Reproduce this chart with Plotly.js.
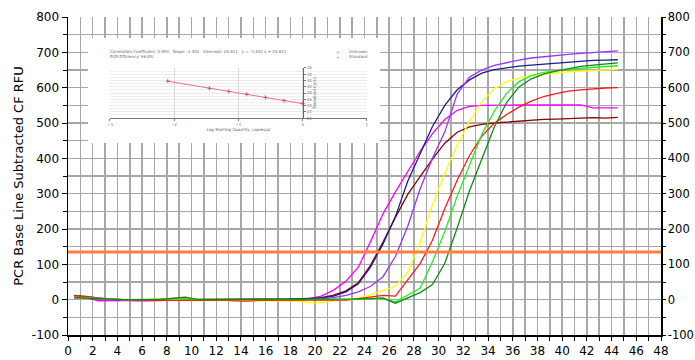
<!DOCTYPE html>
<html>
<head>
<meta charset="utf-8">
<script src="https://cdn.plot.ly/plotly-3.0.1.min.js"></script>
<style>html,body{margin:0;padding:0;background:#fff;}#chart{width:695px;height:360px;}</style>
</head>
<body>
<div id="chart"></div>
<script>
// ---- Amplification data (cycle, RFU) ----
const cycles = [0.5,1.5,2.5,3.5,4.5,5.5,6.5,7.5,8.5,9.5,10.5,11.5,12.5,13.5,14.5,15.5,16.5,17.5,18.5,19.5,20.5,21.5,22.5,23.5,24.5,25.5,26.5,27.5,28.5,29.5,30.5,31.5,32.5,33.5,34.5,35.5,36.5,37.5,38.5,39.5,40.5,41.5,42.5,43.5,44.5];

const magenta = [8,5,-3,-3,-1,-1,-1,-1,-1,0,-1,-1,-1,-1,-2,-2,-2,-1,0,3,10,27,52,92,165,243,305,362,420,470,510,536,547,550,551,551,551,551,551,551,551,551,543,543,543];
const navy = [6,4,2,1,-1,-1,-1,-1,-1,-1,-1,-1,-1,-1,0,0,0,1,2,3,5,10,22,45,93,158,235,335,415,490,550,594,622,641,651,657,661,664,667,670,673,675,677,678,679];
const maroon = [12,8,3,1,0,0,0,0,0,0,0,0,0,0,0,0,0,0,1,2,6,13,25,48,98,163,233,298,348,398,443,474,489,496,500,503,506,508,510,511,512,515,515,514,516];
const violet = [5,3,1,0,-3,-3,-3,-2,-1,-1,0,-1,-2,-1,-1,-1,-1,0,0,1,3,6,12,22,38,65,122,208,313,400,475,582,630,650,663,671,678,684,688,691,694,697,700,702,704];
const yellow = [6,5,5,2,0,-1,0,2,0,-1,-3,-2,-2,-2,-2,-4,-4,-4,-4,-8,-9,-3,0,4,14,27,38,78,162,268,358,438,505,560,597,617,627,634,639,642,645,647,649,651,652];
const red = [11,9,4,1,0,-2,-2,0,0,0,-1,-1,-1,-3,-4,-2,-2,-2,-2,-2,-3,-3,-1,3,8,12,10,55,102,168,258,338,408,463,499,524,545,562,575,583,590,594,597,599,600];
const lime = [7,5,3,1,0,0,0,0,2,3,0,0,0,0,0,0,0,0,0,0,-1,-1,0,1,3,2,-6,12,32,107,193,293,381,468,533,584,617,634,643,648,652,655,657,660,662];
const darkGreen = [6,4,2,1,0,0,0,1,4,7,0,0,0,0,0,0,0,0,0,0,0,0,1,2,3,5,-10,6,20,43,103,203,308,398,488,558,602,625,638,647,654,660,664,667,670];

const thresholdRFU = 135;
const thresholdX = [0, 48];

const yTickVals = [-100,0,100,200,300,400,500,600,700,800];
const yTickText = ['-100','0','100','200','300','400','500','600','700','800'];

// ---- Standard curve (inset) ----
const stdLogQty = [-2.1,-1.45,-1.15,-0.87,-0.58,-0.29,0];
const stdCt = [31.8,29.5,28.5,27.6,26.6,25.6,24.6];
const fitLogQty = [-2.1, 0];
const fitCt = [31.75, 24.61];
const insetInfo1 = 'Correlation Coefficient: 0.993   Slope: -3.402   Intercept: 24.611   y = -3.402 x + 24.611';
const insetInfo2 = 'PCR Efficiency: 96.8%';
const insetXTitle = 'Log Starting Quantity, copies/\u00b5l';
const insetYTitle = 'Threshold Cycle';
const insetLegend = ['Unknown', 'Standard'];

// ---- styles ----
const series = [
  {y: magenta, color: '#ff00ff'},
  {y: maroon, color: '#8b0000'},
  {y: navy, color: '#1c1c8c'},
  {y: violet, color: '#9933ff'},
  {y: yellow, color: '#ffff00'},
  {y: red, color: '#ff1a1a'},
  {y: lime, color: '#22ee22'},
  {y: darkGreen, color: '#108a10'}
];

const traces = [];
series.forEach(s => {
  traces.push({x: cycles, y: s.y, type: 'scatter', mode: 'lines',
    line: {color: s.color, width: 1.3}, xaxis: 'x', yaxis: 'y', hoverinfo: 'skip'});
});
traces.push({x: thresholdX, y: [thresholdRFU, thresholdRFU], type: 'scatter', mode: 'lines',
  line: {color: '#ff7f3f', width: 3}, xaxis: 'x', yaxis: 'y4', hoverinfo: 'skip'});

// inset white panel (own subplot drawn above main grid)
traces.push({x: [0,1,1,0,0], y: [0,0,1,1,0], type: 'scatter', mode: 'lines', fill: 'toself',
  fillcolor: '#ffffff', line: {width: 0, color: '#ffffff'}, xaxis: 'x2', yaxis: 'y2', hoverinfo: 'skip'});
// inset standard curve
traces.push({x: fitLogQty, y: fitCt, type: 'scatter', mode: 'lines',
  line: {color: '#f07080', width: 1}, xaxis: 'x3', yaxis: 'y3', hoverinfo: 'skip'});
traces.push({x: stdLogQty, y: stdCt, type: 'scatter', mode: 'markers',
  marker: {symbol: 'cross-thin-open', size: 3, color: '#c04060', line: {width: 0.8, color: '#c04060'}},
  xaxis: 'x3', yaxis: 'y3', hoverinfo: 'skip'});

const FONT = 'DejaVu Sans, Verdana, sans-serif';
const gridC = '#a8a8a8';

const layout = {
  width: 695, height: 360,
  margin: {l: 68, r: 34, t: 17, b: 25, pad: 0},
  paper_bgcolor: '#ffffff', plot_bgcolor: '#ffffff',
  showlegend: false,
  font: {family: FONT, size: 12, color: '#000'},
  xaxis: {
    domain: [0, 1], range: [0, 48], dtick: 2, tick0: 0,
    showgrid: true, gridcolor: gridC, gridwidth: 1.5,
    minor: {dtick: 1, showgrid: true, gridcolor: gridC, gridwidth: 1.5, ticks: 'outside', ticklen: 4, tickcolor: '#000'},
    ticks: 'outside', ticklen: 4, tickcolor: '#000', ticklabelstandoff: 0,
    showline: true, linecolor: '#000', linewidth: 1.5, zeroline: false,
    tickfont: {family: FONT, size: 12, color: '#000'}, anchor: 'y'
  },
  yaxis: {
    domain: [0, 1], range: [-100, 800], tickmode: 'array', tickvals: yTickVals, ticktext: yTickText,
    showgrid: true, gridcolor: gridC, gridwidth: 1.5,
    minor: {dtick: 50, tick0: 0, showgrid: true, gridcolor: gridC, gridwidth: 1.5, ticks: 'outside', ticklen: 4, tickcolor: '#000'},
    ticks: 'outside', ticklen: 5, tickcolor: '#000',
    showline: true, linecolor: '#000', linewidth: 1.5, zeroline: false,
    tickfont: {family: FONT, size: 12, color: '#000'},
    title: {text: 'PCR Base Line Subtracted CF RFU', font: {family: FONT, size: 13, color: '#000'}, standoff: 5},
    anchor: 'x'
  },
  yaxis4: {
    overlaying: 'y', side: 'right', anchor: 'x', range: [-100, 800],
    tickmode: 'array', tickvals: yTickVals, ticktext: yTickText,
    showgrid: false, zeroline: false,
    minor: {dtick: 50, tick0: 0, ticks: 'outside', ticklen: 3, tickcolor: '#000', showgrid: false},
    ticks: 'outside', ticklen: 3, tickcolor: '#000', ticklabelstandoff: 0,
    showline: true, linecolor: '#000', linewidth: 1.5,
    tickfont: {family: FONT, size: 11.5, color: '#000'}
  },
  xaxis2: {domain: [0.0337, 0.526], range: [0, 1], visible: false, anchor: 'y2', fixedrange: true},
  yaxis2: {domain: [0.604, 0.934], range: [0, 1], visible: false, anchor: 'x2', fixedrange: true},
  xaxis3: {
    domain: [0.0708, 0.504], range: [-3, 1], dtick: 1, anchor: 'y3',
    showgrid: true, gridcolor: '#d8d8d8', gridwidth: 1, zeroline: false,
    showline: true, linecolor: '#777', linewidth: 1, ticks: 'outside', ticklen: 2, tickcolor: '#777',
    tickfont: {family: FONT, size: 4, color: '#777'},
    title: {text: insetXTitle, font: {family: FONT, size: 4, color: '#555'}, standoff: 2}
  },
  yaxis3: {
    domain: [0.682, 0.840], range: [20, 36], anchor: 'free', position: 0.3957, side: 'right',
    dtick: 2, tick0: 20, showgrid: true, gridcolor: '#dddddd', gridwidth: 0.6,
    minor: {dtick: 1, showgrid: true, gridcolor: '#e4e4e4', gridwidth: 0.6},
    zeroline: false, showline: true, linecolor: '#666', linewidth: 1.2, ticks: 'outside', ticklen: 2, tickcolor: '#777',
    tickfont: {family: FONT, size: 4, color: '#777'},
    title: {text: insetYTitle, font: {family: FONT, size: 4, color: '#666'}, standoff: 1}
  },
  annotations: [
    {xref: 'paper', yref: 'paper', x: 0.0675, y: 0.891, xanchor: 'left', yanchor: 'middle', showarrow: false,
      text: insetInfo1, font: {family: FONT, size: 4, color: '#666'}},
    {xref: 'paper', yref: 'paper', x: 0.0675, y: 0.875, xanchor: 'left', yanchor: 'middle', showarrow: false,
      text: insetInfo2, font: {family: FONT, size: 4, color: '#666'}},
    {xref: 'paper', yref: 'paper', x: 0.455, y: 0.891, xanchor: 'center', yanchor: 'middle', showarrow: false,
      text: '\u00d7', font: {family: FONT, size: 5, color: '#ff6666'}},
    {xref: 'paper', yref: 'paper', x: 0.455, y: 0.875, xanchor: 'center', yanchor: 'middle', showarrow: false,
      text: '+', font: {family: FONT, size: 5, color: '#9999dd'}},
    {xref: 'paper', yref: 'paper', x: 0.470, y: 0.891, xanchor: 'left', yanchor: 'middle', showarrow: false,
      text: insetLegend[0], font: {family: FONT, size: 4, color: '#666'}},
    {xref: 'paper', yref: 'paper', x: 0.470, y: 0.875, xanchor: 'left', yanchor: 'middle', showarrow: false,
      text: insetLegend[1], font: {family: FONT, size: 4, color: '#666'}}
  ]
};

Plotly.newPlot('chart', traces, layout, {staticPlot: true, displayModeBar: false});
</script>
</body>
</html>
